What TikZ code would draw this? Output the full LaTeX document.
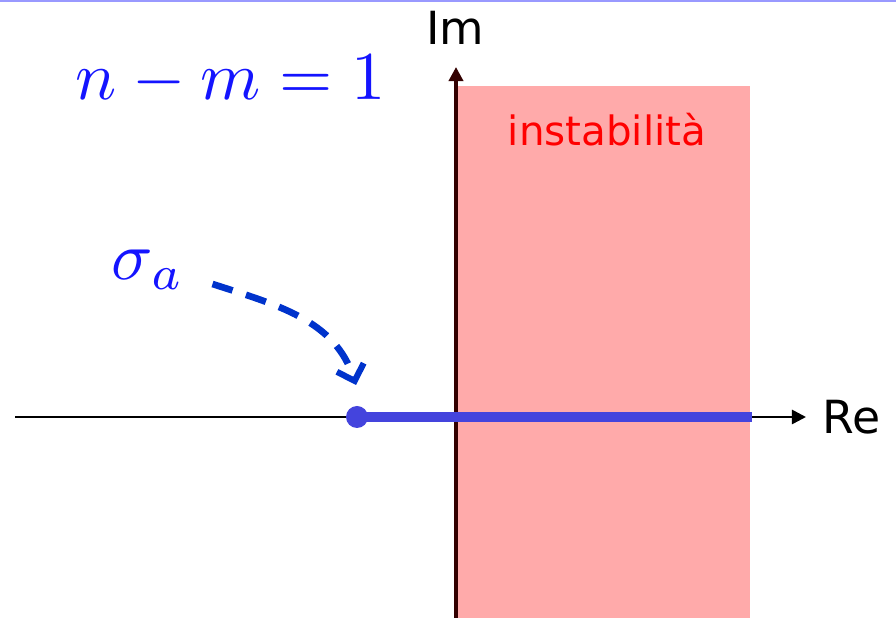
\documentclass[tikz,border=0pt]{standalone}
\usepackage{fontspec}
\newfontfamily\vfont{DejaVu Sans}
\usetikzlibrary{calc,arrows.meta,positioning}
\definecolor{regionred}{RGB}{255,170,170}
\definecolor{locusblue}{RGB}{68,68,221}
\definecolor{hintblue}{RGB}{0,51,204}
\definecolor{textblue}{RGB}{20,20,255}
\tikzstyle{axis} = [line width=1.5pt,-{Triangle[length=8pt,width=8pt]}]
\tikzstyle{locus} = [line width=5.5pt,color=locusblue]
\tikzstyle{hint} = [line width=3.8pt,color=hintblue,dash pattern=on 12pt off 8pt,-{Straight Barb[length=8pt,width=16pt,line width=3.5pt]}]
\tikzstyle{axlabel} = [font=\vfont\fontsize{26}{30}\selectfont]
\tikzstyle{mathlabel} = [text=textblue, scale=3.9]

\begin{document}
\begin{tikzpicture}
	%% frame of the picture
	\useasboundingbox (0,0) rectangle (17.92,12.44);
	\fill[blue!40] (0,12.40) rectangle (17.92,12.44);

	%% origin and main points
	\coordinate (O) at (9.12,4.10); % origin
	\coordinate (Rb) at (0.30,4.10); % left end of real axis
	\coordinate (Re) at (16.12,4.10); % tip of real axis
	\coordinate (Ib) at (9.12,0.08); % bottom of imaginary axis
	\coordinate (Ie) at (9.12,11.10); % tip of imaginary axis
	\coordinate (S) at (7.14,4.10); % sigma_a on the axis
	\coordinate (L) at (15.04,4.10); % end of the locus

	%% unstable half plane
	\fill[regionred] (Ib) rectangle (15.0,10.72);
	\node[text=red, font=\vfont\fontsize{23}{26}\selectfont] (instab) at (12.14,9.84) {instabilità};

	%% axes
	\draw[axis] (Rb) -- (Re);
	\draw[axis, line width=2pt, color=black!80!red] (Ib) -- (Ie);
	\node[axlabel] (im) at (9.10,11.88) {Im};
	\node[axlabel, anchor=west, inner sep=0pt] (re) at (16.45,4.10) {Re};

	%% root locus branch
	\draw[locus] (S) -- (L);
	\fill[locusblue] (S) circle (0.22);

	%% labels
	\node[mathlabel] (nm) at (4.62,10.84) {$n-m=1$};
	\node[mathlabel] (sigma) at (2.96,7.05) {$\sigma_a$};
	\coordinate (H1) at (4.25,6.76);
	\coordinate (H2) at (7.12,4.74);
	\draw[hint] (H1) to[out=-18, in=108] (H2);
\end{tikzpicture}
\end{document}
